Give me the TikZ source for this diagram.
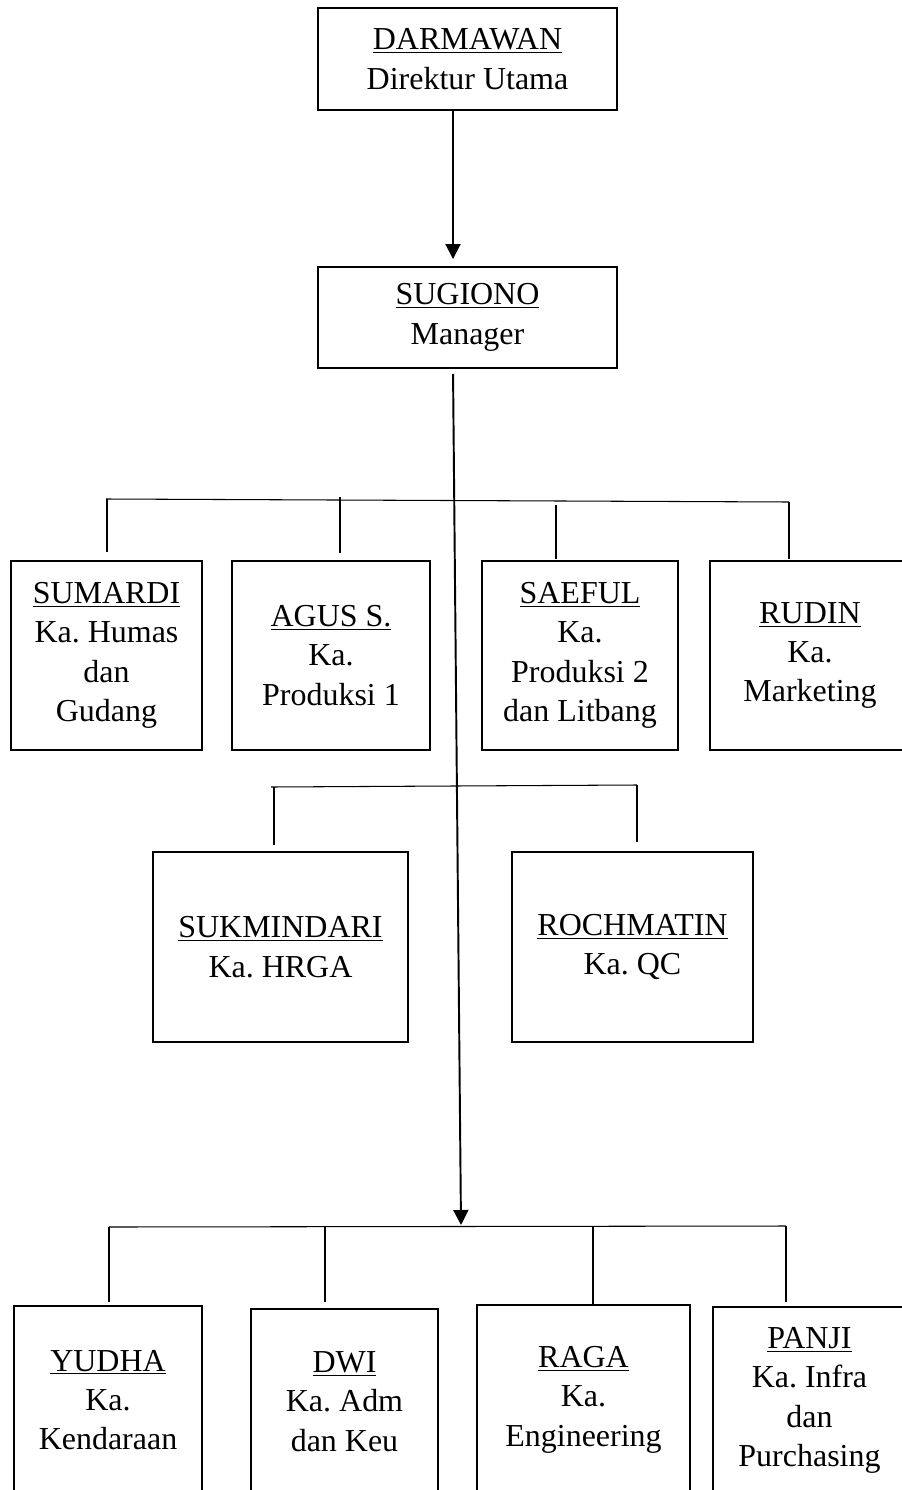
\documentclass[tikz,border=0pt]{standalone}
\usepackage{fontspec}
\setmainfont{Liberation Serif}
\usetikzlibrary{arrows.meta}
\frenchspacing

\begin{document}
\begin{tikzpicture}[x=0.02cm, y=-0.02cm, >={Triangle[length=0.3cm, width=0.3cm]},
  jab/.style 2 args={draw, line width=1.1pt, align=center, inner sep=0pt,
    minimum width=#1*0.02cm, minimum height=#2*0.02cm, font=\fontsize{18.2}{22.4}\selectfont},
  garis/.style={line width=0.6pt},
  panah/.style={->, line width=1.1pt}]
\useasboundingbox (0,0) rectangle (902,1490);
\clip (0,0) rectangle (902,1490);
% pimpinan
\node[jab={299}{102}] (darmawan) at (467.5,59) {\underline{DARMAWAN}\\Direktur Utama};
\node[jab={299}{101}] (sugiono) at (467.5,317.5) {\underline{SUGIONO}\\Manager};
% kepala bagian, baris 1
\node[jab={191}{189}] (sumardi) at (106.5,655.5) {\underline{SUMARDI}\\Ka. Humas\\dan\\Gudang};
\node[jab={198}{189}] (agus) at (331,655.5) {\underline{AGUS S.}\\Ka.\\Produksi 1};
\node[jab={196}{189}] (saeful) at (580,655.5) {\underline{SAEFUL}\\Ka.\\Produksi 2\\dan Litbang};
\node[jab={200}{189}] (rudin) at (810,655.5) {\underline{RUDIN}\\Ka.\\Marketing};
% baris 2
\node[jab={255}{190}] (sukmindari) at (280.5,947) {\underline{SUKMINDARI}\\Ka. HRGA};
\node[jab={241}{190}] (rochmatin) at (632.5,947) {\underline{ROCHMATIN}\\Ka. QC};
% baris 3 (terpotong di bawah)
\node[jab={188}{188}] (yudha) at (108,1400) {\underline{YUDHA}\\Ka.\\Kendaraan};
\node[jab={187}{185}] (dwi) at (344.5,1401.5) {\underline{DWI}\\Ka. Adm\\dan Keu};
\node[jab={213}{189}] (raga) at (583.5,1399.5) {\underline{RAGA}\\Ka.\\Engineering};
\node[jab={193}{187}] (panji) at (809.5,1400.5) {\underline{PANJI}\\Ka. Infra\\dan\\Purchasing};
% garis komando
\coordinate (spine) at (453,0);
\coordinate (hub) at (461,1225);
\draw[panah, shorten >=0.14cm] (darmawan.south -| spine) -- (sugiono.north -| spine);
\draw[panah, shorten <=0.1cm] (sugiono.south -| spine) -- (hub);
% cabang
\coordinate (t1) at (107,499);
\coordinate (t2) at (340,497);
\coordinate (t3) at (556,505);
\coordinate (t4) at (789,502);
\coordinate (t5) at (274,787);
\coordinate (t6) at (637,785);
\coordinate (t7) at (109,1227);
\coordinate (t8) at (325,1226);
\coordinate (t9) at (593,1227);
\coordinate (t10) at (786,1226);
\draw[garis] ([xshift=-0.02cm]t1) -- (t4);
\draw[garis] ([xshift=-0.06cm]t5) -- (t6);
\draw[garis] (t7) -- (t10);
\foreach \t/\n/\g in {t1/sumardi/8, t2/agus/7, t3/saeful/1, t4/rudin/1, t5/sukmindari/6,
    t6/rochmatin/9, t7/yudha/3, t8/dwi/6, t9/raga/0, t10/panji/4}
  \draw[garis, shorten >=\g*0.02cm] (\t) -- (\t |- \n.north);
\end{tikzpicture}
\end{document}
